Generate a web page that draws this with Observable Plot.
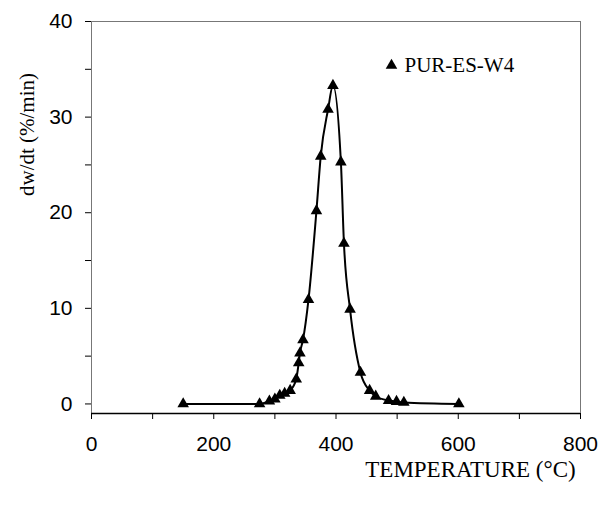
<!DOCTYPE html>
<html><head><meta charset="utf-8">
<script src="https://cdn.jsdelivr.net/npm/d3@7"></script>
<script src="https://cdn.jsdelivr.net/npm/@observablehq/plot@0.6"></script>
<style>body{margin:0;background:#fff}</style>
</head><body><div id="chart"></div>
<script>
const temperature = [150,275,291,300,308,316,325,335,339,341,346,355,368,375,387,395,408,413,423,440,455,465,486,499,511,601];
const rate = [0,0,0.3,0.5,0.9,1.1,1.4,2.6,4.3,5.3,6.7,10.9,20.2,25.9,30.8,33.3,25.3,16.8,9.9,3.3,1.4,0.8,0.35,0.25,0.15,0];
const xTicks = [0,100,200,300,400,500,600,700,800];
const yTicks = [0,5,10,15,20,25,30,35,40];
const seriesName = "PUR-ES-W4";
const xLabel = "TEMPERATURE (°C)";
const yLabel = "dw/dt (%/min)";

const data = temperature.map((t, i) => ({t, v: rate[i]}));
const serif = "Liberation Serif, Times New Roman, serif";

const chart = Plot.plot({
  width: 603,
  height: 505,
  marginLeft: 91,
  marginRight: 23,
  marginTop: 21,
  marginBottom: 92,
  style: {fontFamily: "Liberation Sans, Arial, sans-serif", fontSize: "21px", background: "#fff", color: "#000", overflow: "visible"},
  x: {domain: [0, 800]},
  y: {domain: [-1, 40]},
  marks: [
    Plot.frame({stroke: "#777", strokeWidth: 1}),
    Plot.ruleY([-1], {stroke: "#000", strokeWidth: 1.5}),
    Plot.axisX({ticks: xTicks, tickSize: 6, tickPadding: 17, tickFormat: d => d % 200 === 0 ? d : "", label: null}),
    Plot.axisY({ticks: yTicks, tickSize: 6, tickPadding: 13, tickFormat: d => d % 10 === 0 ? d : "", label: null}),
    Plot.line(data, {x: "t", y: "v", curve: "monotone-x", stroke: "#000", strokeWidth: 2}),
    Plot.dot(data, {x: "t", y: "v", symbol: "triangle", r: 4.3, fill: "#000", stroke: "none"}),
    Plot.dot([0], {frameAnchor: "top-left", dx: 300, dy: 44, symbol: "triangle", r: 4.3, fill: "#000", stroke: "none"}),
    Plot.text([seriesName], {frameAnchor: "top-left", dx: 313, dy: 44, text: d => d, textAnchor: "start", lineAnchor: "middle", fontFamily: serif, fontSize: 21, fill: "#000"}),
    Plot.text([xLabel], {frameAnchor: "bottom-left", dx: 379, dy: 56, text: d => d, textAnchor: "middle", lineAnchor: "middle", fontFamily: serif, fontSize: 23, fill: "#000"}),
    Plot.text([yLabel], {frameAnchor: "top-left", dx: -64, dy: 113, rotate: -90, text: d => d, textAnchor: "middle", lineAnchor: "middle", fontFamily: serif, fontSize: 21, fill: "#000"})
  ]
});
document.getElementById("chart").appendChild(chart);
</script>
</body></html>
